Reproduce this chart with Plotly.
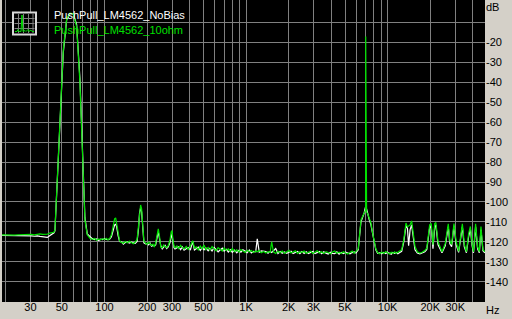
import math
import plotly.graph_objects as go

# ---------------- data ----------------
freq_hz = [
    18.9, 20, 21.5, 23, 24.5, 26, 27.5, 29, 30.5, 32, 33.5, 35, 36.5, 38, 39.5, 41, 42.5, 44, 44.7,
    48.5, 51.2, 54.1, 57.1, 60.2, 63.6, 67.1, 68.9, 70.8, 72.8, 75.6, 79,
    82, 85, 88, 91, 94, 97, 100, 103, 106, 109, 112, 115, 118, 120, 122, 125, 128, 132, 136, 140,
    145, 150, 155, 160, 165, 170, 174, 177, 180, 183, 186, 190, 195, 200, 205, 210, 215, 220, 225,
    230, 235, 240, 245, 250, 256, 262, 268, 275, 282, 290, 296, 300, 304, 310,
    315, 325, 335, 345, 355, 365, 378, 390, 405, 420, 432, 445, 460, 475, 490, 505, 520, 540, 555,
    575, 595, 615, 635, 655, 680, 700, 725, 750, 775, 800, 830, 860, 890, 920, 950, 985, 1020, 1055,
    1090, 1130, 1170, 1200, 1240, 1280, 1330, 1380, 1430, 1480, 1517, 1560, 1620, 1680, 1740, 1800,
    1870, 1940, 2010, 2080, 2150, 2230, 2310, 2400, 2480, 2570, 2660, 2760, 2860, 2960, 3070, 3180,
    3300, 3420, 3540, 3670, 3800, 3940, 4080, 4230, 4380, 4540, 4700, 4870, 5050, 5230, 5420, 5620,
    5800, 5970,
    6200, 6480, 6700, 6830, 6950, 6985, 7000, 7012, 7030, 7100, 7230, 7420, 7620, 7830, 8040, 8250, 8500,
    8800, 9100, 9400, 9700, 10000, 10300, 10600, 10900, 11200, 11500, 11800, 12100, 12560,
    13000, 13470, 13800, 14060, 14400, 14770, 15200, 15600, 16200, 16900, 17500, 18300,
    18900, 19800, 20300, 20900, 21500, 21900, 22700, 23400, 24200, 25500, 26800, 27500, 28300, 29400,
    30500, 31700, 33000, 33700, 34800, 36000, 37300, 38400, 39500, 40400, 41800, 43200, 44400, 45600,
    47100, 48600,
]

ohm10_db = [
    -116.5, -116.6, -116.4, -116.6, -116.5, -116.4, -116.6, -116.5, -116.3, -116.5, -116.2, -116.0, -116.3, -116.4, -116.2, -115.6, -115.3, -115.2, -114.0,
    -62, -23.7, -8, -5.3, -5.6, -12, -40, -65.5, -92, -109, -116.5, -118.2,
    -118.8, -118.3, -119.2, -118.6, -119.0, -118.4, -118.9, -118.2, -119.1, -118.3, -116.5, -112, -108.5, -108, -110.5, -116, -119.6, -120.3, -120.7, -119.8,
    -120.5, -119.7, -120.4, -121.0, -120.1, -118.8, -112, -104, -101.5, -103.5, -112.5, -119.6, -120.6, -121.3, -120.2, -121.0, -121.8, -121.2, -122.6,
    -120.5, -116.5, -113.5, -117.5, -122.6, -123.0, -121.6, -122.4, -122.9, -121.9, -119.2, -115, -114.3, -118.5, -122.4,
    -123.0, -122.1, -123.4, -121.8, -122.9, -123.6, -122.3, -123.8, -122.0, -119.4, -123.2, -122.5, -124.0, -122.2, -123.5, -121.6, -123.9, -122.8, -124.2,
    -122.4, -123.6, -124.5, -122.9, -123.8, -124.6, -123.1, -124.3, -123.5, -124.8, -123.4, -124.9, -124.0, -125.1, -123.9, -124.7, -125.3, -124.2, -125.0,
    -124.4, -125.4, -124.6, -125.0, -124.3, -125.5, -124.8, -125.6, -124.9, -125.3, -120.0, -125.0, -125.8, -124.7, -125.5, -124.6,
    -125.7, -125.0, -124.3, -125.6, -125.1, -124.5, -125.8, -125.0, -125.4, -124.6, -125.7, -125.2, -124.7, -125.9, -125.1, -124.5,
    -125.6, -125.0, -125.8, -124.9, -125.4, -126.0, -125.1, -124.6, -125.7, -125.2, -125.9, -125.0, -125.6, -126.1, -125.3, -124.6,
    -125.8, -124.9,
    -123.5, -109, -106.5, -105, -104.5, -104, -17, -33, -104, -105, -106, -108, -110.5, -115.5, -120.5, -123.5, -125.5,
    -126.0, -125.2, -125.8, -124.9, -125.6, -126.1, -125.3, -125.9, -125.0, -125.7, -125.2, -124.8, -124.0,
    -119, -110.6, -112.5, -112, -111.5, -109.5, -116, -122.4, -125, -125.7, -125.2, -124.4,
    -123.2, -111.5, -110.8, -121.5, -110.8, -110.3, -120, -122.5, -125, -121, -111, -119.5, -121.3, -110.8,
    -120, -124.8, -116, -111, -121.3, -125, -116, -112.3, -121, -125, -111, -122.5, -125, -112.3,
    -124, -125,
]

nobias_db = [
    -116.8, -116.8, -116.9, -116.7, -116.9, -116.8, -117.0, -116.9, -117.0, -117.2, -117.0, -117.3, -117.5, -117.6, -117.8, -117.0, -116.0, -115.5, -114.5,
    -64, -25, -8.5, -5.5, -5.5, -11, -38, -63, -90, -108, -116, -117.5,
    -118.4, -118.9, -118.6, -119.4, -118.7, -118.9, -118.5, -118.8, -118.9, -118.6, -117.5, -114.5, -111.5, -111.2, -112.5, -117, -119.8, -120.0, -121.2, -120.4,
    -120.1, -120.6, -120.2, -120.5, -120.8, -119.8, -113.5, -105.5, -103.0, -105, -113.5, -120.5, -121.0, -120.8, -121.5, -120.6, -122.2, -121.8, -122.0,
    -121.5, -118, -115, -118.5, -122.0, -123.5, -122.6, -121.8, -123.4, -122.6, -120.5, -116.5, -115.8, -119.5, -123.0,
    -123.6, -123.0, -122.5, -123.9, -122.6, -124.2, -123.5, -122.8, -123.9, -119.8, -124.1, -123.4, -122.7, -124.3, -122.9, -124.0, -123.1, -124.5, -123.3,
    -124.6, -122.8, -123.9, -125.0, -124.1, -123.2, -124.7, -123.8, -125.1, -124.0, -125.3, -124.2, -125.5, -124.3, -125.2, -124.0, -124.6, -125.4, -124.1,
    -125.6, -124.8, -125.0, -118.5, -125.2, -124.6, -124.8, -124.9, -125.7, -124.8, -125.3, -124.5, -123.4, -125.9, -124.9, -125.7,
    -125.1, -125.8, -125.2, -124.7, -125.9, -125.4, -124.8, -125.9, -124.9, -125.8, -125.0, -125.9, -125.3, -124.8, -125.9, -125.2,
    -124.9, -126.0, -125.0, -125.7, -126.1, -125.2, -125.8, -125.9, -125.0, -126.2, -125.3, -125.9, -125.2, -125.6, -126.0, -125.4,
    -125.1, -125.6,
    -124, -110, -107.5, -105.5, -103, -103, -103, -103, -103, -103.5, -106.5, -109, -111.5, -116.5, -121.5, -124, -125.8,
    -125.6, -126.0, -125.3, -125.9, -125.2, -125.7, -126.2, -125.4, -125.8, -125.3, -126.0, -125.5, -124.8,
    -120, -112, -113, -122, -114, -111.5, -118, -124, -125.6, -126, -125.6, -125,
    -123.8, -113, -112, -123.5, -112.5, -111.5, -121.5, -123.5, -125.5, -122, -112.5, -121, -122.5, -112,
    -121.5, -125.3, -117.5, -112.5, -122.5, -125.5, -117.5, -113.5, -122, -125.5, -112.5, -123.5, -125.5, -114,
    -124.5, -125.5,
]

series_names = ["PushPull_LM4562_NoBias", "PushPull_LM4562_10ohm"]

x_grid_hz = [20, 30, 40, 50, 60, 70, 80, 90,
             100, 200, 300, 400, 500, 600, 700, 800, 900,
             1000, 2000, 3000, 4000, 5000, 6000, 7000, 8000, 9000,
             10000, 20000, 30000, 40000]
x_labels = {30: "30", 50: "50", 100: "100", 200: "200", 300: "300", 500: "500",
            1000: "1K", 2000: "2K", 3000: "3K", 5000: "5K",
            10000: "10K", 20000: "20K", 30000: "30K"}
y_grid_db = [-140, -130, -120, -110, -100, -90, -80, -70, -60, -50, -40, -30, -20, -10]

assert len(freq_hz) == len(ohm10_db) == len(nobias_db), (len(freq_hz), len(ohm10_db), len(nobias_db))

# ---------------- figure ----------------
W, H = 512, 319
ML, MR, MT, MB = 2, 27, 0, 17
PW, PH = W - ML - MR, H - MT - MB

def X(px):
    return (px - ML) / PW

def Y(py):
    return (H - MB - py) / PH

GREEN = "#00E000"
FONT = "Liberation Sans, Arial, sans-serif"

fig = go.Figure()
fig.add_trace(go.Scatter(x=freq_hz, y=nobias_db, mode="lines", name=series_names[0],
                         line=dict(color="#FFFFFF", width=1.2)))
fig.add_trace(go.Scatter(x=freq_hz, y=ohm10_db, mode="lines", name=series_names[1],
                         line=dict(color=GREEN, width=1.2)))

shapes = []
# legend icon
shapes.append(dict(type="rect", xref="paper", yref="paper",
                   x0=X(13), x1=X(36), y0=Y(34.5), y1=Y(12.5),
                   line=dict(color="#D8D8D8", width=2), fillcolor="#000000", layer="above"))
for gx in [18.5, 23.5, 28.5, 33]:
    shapes.append(dict(type="line", xref="paper", yref="paper", x0=X(gx), x1=X(gx),
                       y0=Y(33), y1=Y(14), line=dict(color="#808080", width=1), layer="above"))
for gy in [18.5, 23.5, 28.5]:
    shapes.append(dict(type="line", xref="paper", yref="paper", x0=X(14.5), x1=X(34.5),
                       y0=Y(gy), y1=Y(gy), line=dict(color="#808080", width=1), layer="above"))
icon_pts = [(15, 31.5), (17, 31.5), (18, 29.5), (19, 31.5), (21, 31.5), (22, 15), (23, 31.5),
            (25, 30.5), (26, 31.5), (28, 29.5), (29, 31.5), (31, 30), (32, 31.5), (34, 31.5)]
path = "M " + " L ".join(f"{X(a):.5f},{Y(b):.5f}" for a, b in icon_pts)
shapes.append(dict(type="path", xref="paper", yref="paper", path=path,
                   line=dict(color=GREEN, width=1), layer="above"))

annotations = [
    dict(text=series_names[0], x=X(52), y=Y(15), xref="paper", yref="paper",
         xanchor="left", yanchor="middle", showarrow=False,
         font=dict(family=FONT, size=11, color="#FFFFFF")),
    dict(text=series_names[1], x=X(52), y=Y(30), xref="paper", yref="paper",
         xanchor="left", yanchor="middle", showarrow=False,
         font=dict(family=FONT, size=11, color=GREEN)),
    dict(text="dB", x=X(492), y=Y(7), xref="paper", yref="paper",
         xanchor="center", yanchor="middle", showarrow=False,
         font=dict(family=FONT, size=11, color="#000000")),
    dict(text="Hz", x=X(492), y=Y(309.5), xref="paper", yref="paper",
         xanchor="center", yanchor="middle", showarrow=False,
         font=dict(family=FONT, size=11, color="#000000")),
]

fig.update_layout(
    width=W, height=H,
    margin=dict(l=ML, r=MR, t=MT, b=MB, pad=0),
    paper_bgcolor="#D4D0C8", plot_bgcolor="#000000",
    showlegend=False,
    shapes=shapes, annotations=annotations,
    font=dict(family=FONT, size=11, color="#000000"),
    xaxis=dict(type="log", range=[math.log10(18.9), math.log10(48700)],
               tickmode="array", tickvals=x_grid_hz,
               ticktext=[x_labels.get(v, "") for v in x_grid_hz],
               showgrid=True, gridcolor="#808080", gridwidth=1,
               zeroline=False, showline=False, ticks="", ticklen=0,
               ticklabelstandoff=-3,
               tickfont=dict(family=FONT, size=11, color="#000000")),
    yaxis=dict(range=[-150.2, 1.35], side="right",
               tickmode="array", tickvals=y_grid_db,
               ticktext=["" if v == -10 else str(v) for v in y_grid_db],
               showgrid=True, gridcolor="#808080", gridwidth=1,
               zeroline=False, showline=False, ticks="", ticklen=0,
               tickfont=dict(family=FONT, size=11, color="#000000")),
)

fig.write_html("out.html")
